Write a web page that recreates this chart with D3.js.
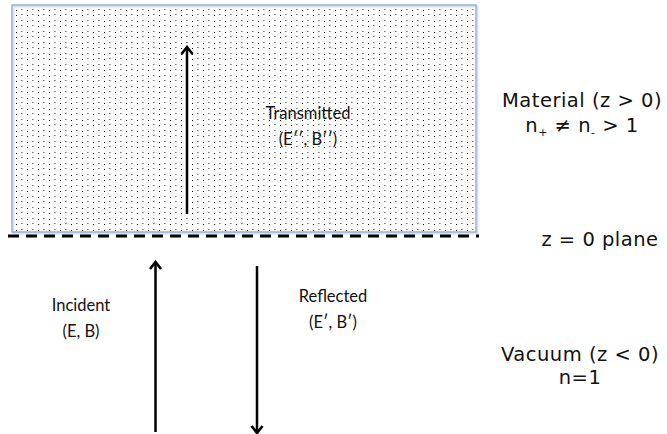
<!DOCTYPE html>
<html><head><meta charset="utf-8">
<script src="https://cdn.jsdelivr.net/npm/d3@7"></script>
<style>html,body{margin:0;padding:0;background:#fff;}</style>
</head><body>
<svg id="c" width="667" height="434"></svg>
<script>
// Diagram content
const regionNames = ["Material (z > 0)", "Vacuum (z < 0)"];
const regionSub = ["n+ ≠ n- > 1", "n=1"];
const planeLabel = ["z = 0 plane"];
const waveNames = ["Transmitted", "Incident", "Reflected"];
const waveFields = ["(E′′, B′′)", "(E, B)", "(E′, B′)"];
// logical z extents of each wave arrow (z = 0 is the interface, material z>0)
const waveZ0 = [1.1, -9.8, -1.5];
const waveZ1 = [9.45, -1.3, -9.85];
const waveX = [1.87, 1.555, 2.57];

const svg = d3.select("#c");
const W = 667, H = 434;
const x = d3.scaleLinear().domain([0, 6.67]).range([0, W]);
const z = d3.scaleLinear().domain([-9.9, 11.8]).range([H, 0]);

const defs = svg.append("defs");
const pat = defs.append("pattern").attr("id","dots").attr("patternUnits","userSpaceOnUse")
  .attr("width", 11).attr("height", 11).attr("x", 16).attr("y", 10);
[[0,0,"#000"],[0,5,"#000"],[5,-1,"#777"],[5,4,"#777"],[5,10,"#777"],[6,-1,"#aaa"],[6,4,"#aaa"],[6,10,"#aaa"]]
  .forEach(d=>pat.append("rect").attr("x",d[0]).attr("y",d[1]).attr("width",1).attr("height",1)
    .attr("fill",d[2]).attr("shape-rendering","crispEdges"));

const mk = defs.append("marker").attr("id","ah").attr("viewBox","-9 -7 11 14")
  .attr("refX",0).attr("refY",0).attr("markerWidth",11).attr("markerHeight",14)
  .attr("markerUnits","userSpaceOnUse").attr("orient","auto");
mk.append("path").attr("d","M-7,-5.5 L0,0 L-7,5.5").attr("fill","none").attr("stroke","#000")
  .attr("stroke-width",2.6).attr("stroke-linejoin","miter");

// material slab
const slabTop = 11.55, slabBottom = 0.2;
svg.append("rect").attr("x", x(0.12)+1.5).attr("y", z(slabTop)+1.5)
  .attr("width", x(4.76)-x(0.12)).attr("height", z(slabBottom)-z(slabTop))
  .attr("fill","none").attr("stroke","#dde2ea").attr("stroke-width",2);
svg.append("rect").attr("x", x(0.12)).attr("y", z(slabTop))
  .attr("width", x(4.76)-x(0.12)).attr("height", z(slabBottom)-z(slabTop))
  .attr("fill","url(#dots)").attr("stroke","#86a3d6").attr("stroke-width",1.3);

// interface dashed line
svg.append("line").attr("x1", x(0.08)).attr("x2", x(4.79)).attr("y1", z(0)).attr("y2", z(0))
  .attr("stroke","#000").attr("stroke-width",3).attr("stroke-dasharray","11,7");

// arrows
waveNames.forEach((n,i)=>{
  svg.append("line").attr("x1", x(waveX[i])).attr("x2", x(waveX[i]))
    .attr("y1", z(waveZ0[i])).attr("y2", z(waveZ1[i]))
    .attr("stroke","#000").attr("stroke-width",2.5).attr("marker-end","url(#ah)");
});

// wave labels
const labX = [3.08, 0.81, 3.33];
const labZ = [5.85, -3.75, -3.3];
waveNames.forEach((n,i)=>{
  const t = svg.append("text").attr("x", x(labX[i])).attr("y", z(labZ[i]))
    .attr("text-anchor","middle").attr("font-family","Lato, 'Open Sans', sans-serif")
    .attr("font-size",16.5).attr("fill","#111");
  t.append("tspan").attr("x", x(labX[i])).attr("dy",0).text(n);
  t.append("tspan").attr("x", x(labX[i])).attr("dy",26).text(waveFields[i]);
});

// region labels (right)
const rf = "'DejaVu Sans', 'Noto Sans', sans-serif";
const fs = 19.5, ls = 0.5;
const rx = x(5.82);
svg.append("text").attr("x", rx).attr("y", z(6.45)).attr("text-anchor","middle")
  .attr("font-family", rf).attr("font-size",fs).attr("letter-spacing",ls).attr("fill","#111").text(regionNames[0]);
const sub = svg.append("text").attr("x", rx).attr("y", z(5.2)).attr("text-anchor","middle")
  .attr("font-family", rf).attr("font-size",fs).attr("letter-spacing",ls).attr("fill","#111");
sub.append("tspan").text("n");
sub.append("tspan").attr("font-size",11).attr("dy",4).text("+");
sub.append("tspan").attr("dy",-4).text(" ≠ n");
sub.append("tspan").attr("font-size",11).attr("dy",4).text("-");
sub.append("tspan").attr("dy",-4).text(" > 1");

svg.append("text").attr("x", x(6.0)).attr("y", z(-0.5)).attr("text-anchor","middle")
  .attr("font-family", rf).attr("font-size",fs).attr("letter-spacing",ls).attr("fill","#111").text(planeLabel[0]);

const vac = svg.append("text").attr("x", x(5.8)).attr("y", z(-6.25)).attr("text-anchor","middle")
  .attr("font-family", rf).attr("font-size",fs).attr("letter-spacing",ls).attr("fill","#111");
vac.append("tspan").attr("x", x(5.8)).text(regionNames[1]);
vac.append("tspan").attr("x", x(5.8)).attr("dy",23).text(regionSub[1]);
</script>
</body></html>
